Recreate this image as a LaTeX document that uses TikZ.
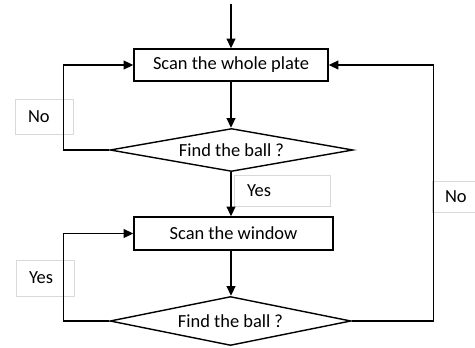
\documentclass[tikz,border=0pt]{standalone}
\usepackage{fontspec}
\setmainfont{Carlito}
\usetikzlibrary{arrows.meta,shapes.geometric}

\begin{document}
\begin{tikzpicture}[x=0.02cm, y=-0.02cm, line width=0.8pt,
    font=\fontsize{10.5}{12}\selectfont,
    >={Triangle[length=5.5pt,width=5pt]},
    stepbox/.style={draw, inner sep=0pt},
    test/.style={draw, diamond, aspect=5.6, inner sep=0pt},
    tag/.style={draw=black!15, line width=0.5pt, inner xsep=0.26cm, inner ysep=0pt, align=left}]
    \clip (0,0) rectangle (475,347);
    \coordinate (in) at (231,4);
    \node[stepbox, minimum width=3.88cm, minimum height=0.64cm] at(231,65)(scan1){Scan the whole plate};
    \node[test, minimum width=4.86cm, minimum height=0.86cm] at(231.5,150)(find1){Find the ball ?};
    \node[stepbox, minimum width=3.98cm, minimum height=0.66cm] at(233.5,233.5)(scan2){Scan the window};
    \node[test, minimum width=4.82cm, minimum height=0.98cm] at(230.5,321)(find2){Find the ball ?};
    % labels
    \node[tag, text width=0.64cm, minimum height=0.7cm] at(44,116.5)(no1){No};
    \node[tag, text width=1.4cm, minimum height=0.62cm] at(282,190.5)(yes1){Yes};
    \node[tag, text width=0.64cm, minimum height=0.72cm] at(45,278)(yes2){Yes};
    \node[tag, text width=0.64cm, minimum height=0.62cm] at(461,196.5)(no2){No};
    % main flow
    \draw[->] (in) -- (scan1.north -| in);
    \draw[->] (scan1.south -| in) -- (find1.north -| in);
    \draw[->] (find1.south -| in) -- (scan2.north -| in);
    \draw[->] (scan2.south -| in) -- (find2.north -| in);
    % loops
    \draw[->] (find1.west) -- ++(-46,0) |- (scan1.west);
    \draw[->] (find2.west) -- ++(-46,0) |- (scan2.west);
    \draw[->] (find2.east) -- ++(82,0) |- (scan1.east);
\end{tikzpicture}
\end{document}
